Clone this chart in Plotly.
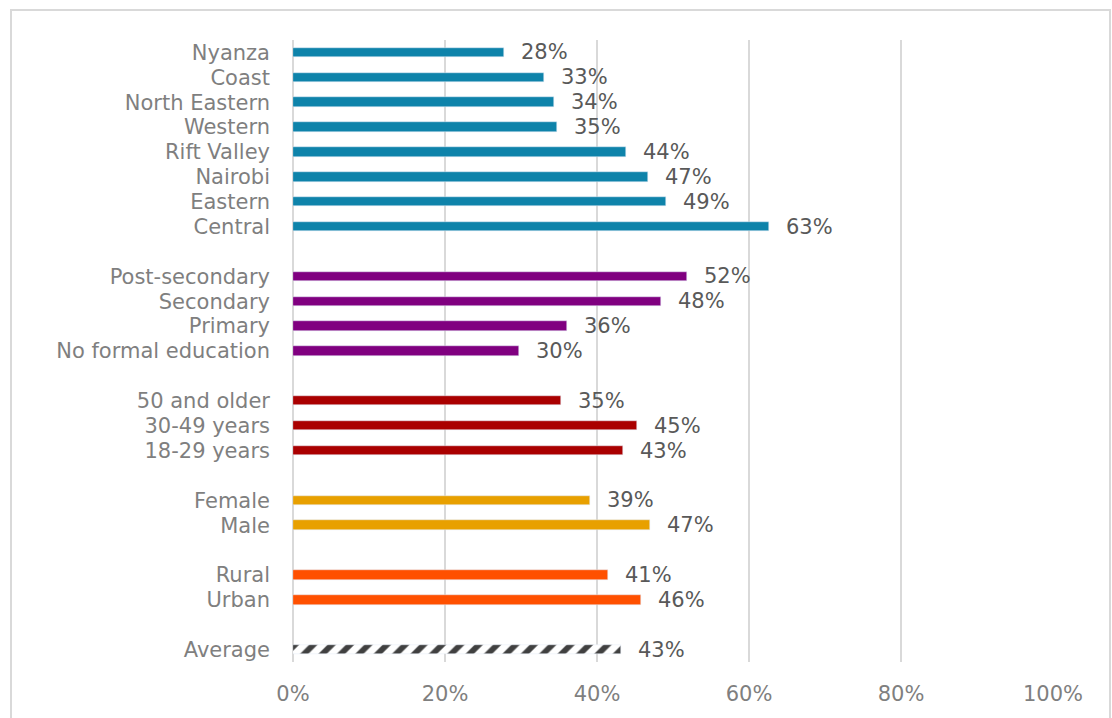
import plotly.graph_objects as go

# ---- data (percent) ----
regions = ["Nyanza", "Coast", "North Eastern", "Western", "Rift Valley", "Nairobi", "Eastern", "Central"]
region_vals = [27.8, 33.0, 34.4, 34.7, 43.8, 46.7, 49.1, 62.6]

education = ["Post-secondary", "Secondary", "Primary", "No formal education"]
education_vals = [51.8, 48.4, 36.1, 29.7]

age = ["50 and older", "30-49 years", "18-29 years"]
age_vals = [35.3, 45.3, 43.4]

gender = ["Female", "Male"]
gender_vals = [39.1, 47.0]

location = ["Rural", "Urban"]
location_vals = [41.4, 45.8]

average = ["Average"]
average_vals = [43.2]

x_ticks = [0, 20, 40, 60, 80, 100]
x_tick_labels = ["0%", "20%", "40%", "60%", "80%", "100%"]

groups = [
    (regions, region_vals, "#0E83AA", None),
    (education, education_vals, "#800080", None),
    (age, age_vals, "#AA0000", None),
    (gender, gender_vals, "#E8A000", None),
    (location, location_vals, "#FF5000", None),
    (average, average_vals, "#404040", "/"),
]

FONT = "DejaVu Sans"
FS = 21
fig = go.Figure()
tickvals, ticktext, annotations = [], [], []
row = 0
last_row = 0
for cats, vals, color, pattern in groups:
    rows = list(range(row, row + len(cats)))
    if pattern:
        marker = dict(color="white", pattern=dict(shape=pattern, fgcolor=color, bgcolor="white",
                                                   fgopacity=1, size=13, solidity=0.45,
                                                   fillmode="replace"))
    else:
        marker = dict(color=color)
    fig.add_trace(go.Bar(x=vals, y=rows, orientation="h", width=0.38, marker=marker,
                         showlegend=False, hoverinfo="x"))
    for r, c, v in zip(rows, cats, vals):
        tickvals.append(r)
        ticktext.append(c)
        annotations.append(dict(x=v, y=r, xref="x", yref="y", text=f"{round(v)}%",
                                xanchor="left", yanchor="middle", xshift=15, showarrow=False,
                                font=dict(family=FONT, size=FS, color="#595959")))
    last_row = rows[-1]
    row += len(cats) + 1

L, R, T, B = 293, 59, 40, 54
W, H = 1112, 718
pw, ph = W - L - R, H - T - B

fig.update_layout(
    width=W, height=H,
    margin=dict(l=L, r=R, t=T, b=B),
    paper_bgcolor="white", plot_bgcolor="white",
    font=dict(family=FONT, size=FS, color="#7f7f7f"),
    bargap=0,
    annotations=annotations,
    shapes=[dict(type="rect", xref="paper", yref="paper",
                 x0=(11 - L) / pw, x1=(1110 - L) / pw,
                 y0=(H - B - (H + 10)) / ph, y1=(H - B - 10) / ph,
                 line=dict(color="#d9d9d9", width=2), fillcolor="rgba(0,0,0,0)", layer="below")],
)
fig.update_xaxes(range=[0, 100], tickvals=x_ticks, ticktext=x_tick_labels,
                 showgrid=True, gridcolor="#d9d9d9", gridwidth=1.5,
                 zeroline=True, zerolinecolor="#d9d9d9", zerolinewidth=1.5,
                 showline=False, ticks="", ticklabelstandoff=17,
                 tickfont=dict(family=FONT, size=FS, color="#7f7f7f"))
fig.update_yaxes(range=[last_row + 0.5, -0.5],
                 tickvals=tickvals, ticktext=ticktext, showgrid=False, zeroline=False,
                 showline=False, ticks="", ticklabelstandoff=22,
                 tickfont=dict(family=FONT, size=FS, color="#7f7f7f"))

fig.write_html("out.html")
